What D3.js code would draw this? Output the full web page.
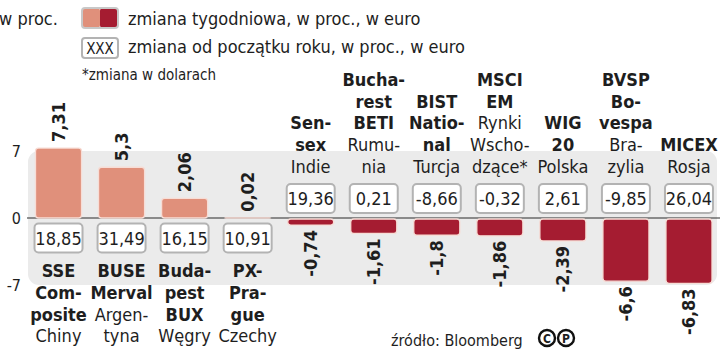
<!DOCTYPE html>
<html><head><meta charset="utf-8">
<script src="https://cdn.jsdelivr.net/npm/d3@7"></script>
<style>
html,body{margin:0;padding:0;background:#fff;}
svg{display:block;}
text{font-family:"DejaVu Sans Condensed","DejaVu Sans",sans-serif;fill:#1e1e1e;}
</style></head>
<body>
<svg id="chart" width="720" height="352"></svg>
<script>
// ---- data ----
const categories = ["SSE Composite","BUSE Merval","Budapest BUX","PX-Prague","Sensex","Bucharest BETI","BIST National","MSCI EM","WIG 20","BVSP Bovespa","MICEX"];
const nameLines = [["SSE","Com-","posite"],["BUSE","Merval"],["Buda-","pest","BUX"],["PX-","Pra-","gue"],["Sen-","sex"],["Bucha-","rest","BETI"],["BIST","Natio-","nal"],["MSCI","EM"],["WIG","20"],["BVSP","Bo-","vespa"],["MICEX"]];
const countryLines = [["Chiny"],["Argen-","tyna"],["Węgry"],["Czechy"],["Indie"],["Rumu-","nia"],["Turcja"],["Rynki","Wscho-","dzące*"],["Polska"],["Bra-","zylia"],["Rosja"]];
const weekly = [7.31, 5.3, 2.06, 0.02, -0.74, -1.61, -1.8, -1.86, -2.39, -6.6, -6.83];
const ytd = [18.85, 31.49, 16.15, 10.91, 19.36, 0.21, -8.66, -0.32, 2.61, -9.85, 26.04];
const yTicks = [7, 0, -7];
const unitLabel = "w proc.";
const legendWeekly = "zmiana tygodniowa, w proc., w euro";
const legendYtd = "zmiana od początku roku, w proc., w euro";
const legendNote = "*zmiana w dolarach";
const sourceText = "źródło: Bloomberg";

const posColor = "#e0907b", negColor = "#a51c31";

const svg = d3.select("#chart");
const x = d3.scaleBand().domain(categories).range([27, 720.5]).paddingInner(0.27).paddingOuter(0.135);
const y = d3.scaleLinear().domain([-7, 7]).range([285, 151]);
const fmtW = v => String(v).replace(".", ",");
const fmtY = v => d3.format(".2f")(v).replace(".", ",").replace("\u2212", "-");

// gray band
svg.append("rect").attr("x", 28).attr("y", y(7)).attr("width", 689).attr("height", y(-7) - y(7))
  .attr("rx", 11).attr("fill", "#ebebeb");

// y axis
const yAxis = d3.axisLeft(y).tickValues(yTicks).tickSize(0).tickPadding(0).tickFormat(d => String(d));
const ga = svg.append("g").attr("transform", "translate(21,0)").call(yAxis);
ga.select(".domain").remove();
ga.selectAll("text").attr("font-size", 16).attr("fill", "#333")
  .style("font-family", '"DejaVu Sans Condensed","DejaVu Sans",sans-serif');

// zero line
svg.append("line").attr("x1", 27).attr("x2", 720).attr("y1", y(0)).attr("y2", y(0))
  .attr("stroke", "#2a2a2a").attr("stroke-width", 1.2);

const idx = d3.range(categories.length);

// bars
svg.append("g").selectAll("rect").data(idx).join("rect")
  .attr("x", i => x(categories[i]))
  .attr("width", x.bandwidth())
  .attr("y", i => weekly[i] >= 0 ? y(weekly[i]) : y(0) + 1)
  .attr("height", i => weekly[i] >= 0 ? Math.max(0, y(0) - y(weekly[i])) : y(weekly[i]) - y(0) - 1)
  .attr("rx", 3)
  .attr("fill", i => weekly[i] >= 0 ? posColor : negColor)
  .attr("stroke", "#f7ddd6").attr("stroke-width", 1.3);

// value labels
svg.append("g").selectAll("text").data(idx).join("text")
  .attr("transform", i => {
    const cx = x(categories[i]) + x.bandwidth() / 2 + 6.5;
    const yy = weekly[i] >= 0 ? y(weekly[i]) - 6 : y(weekly[i]) + 5;
    return `translate(${cx},${yy}) rotate(-90)`;
  })
  .attr("text-anchor", i => weekly[i] >= 0 ? "start" : "end")
  .attr("font-size", 18).attr("font-weight", "bold").attr("fill", "#111")
  .text(i => fmtW(weekly[i]));

// ytd boxes
const bw = 48, bh = 29;
const boxes = svg.append("g").selectAll("g").data(idx).join("g")
  .attr("transform", i => {
    const cx = x(categories[i]) + x.bandwidth() / 2;
    const top = weekly[i] >= 0 ? y(0) + 5.5 : y(0) - 5 - bh;
    return `translate(${cx - bw / 2},${top})`;
  });
boxes.append("rect").attr("width", bw).attr("height", bh).attr("rx", 4)
  .attr("fill", "#fff").attr("stroke", "#b3b3b3").attr("stroke-width", 2);
boxes.append("text").attr("x", bw / 2).attr("y", bh / 2 + 6.5).attr("text-anchor", "middle")
  .attr("font-size", 18).attr("fill", "#1e1e1e").text(i => fmtY(ytd[i]));

// category labels
const lh = 21.8;
idx.forEach(i => {
  const cx = x(categories[i]) + x.bandwidth() / 2;
  const lines = nameLines[i].map(t => ({t, b: true})).concat(countryLines[i].map(t => ({t, b: false})));
  let y0;
  if (weekly[i] >= 0) y0 = 277;
  else y0 = 173 - (lines.length - 1) * lh;
  const t = svg.append("text").attr("text-anchor", "middle").attr("font-size", 18);
  lines.forEach((l, k) => {
    t.append("tspan").attr("x", cx).attr("y", y0 + k * lh)
      .attr("font-weight", l.b ? "bold" : "normal").text(l.t);
  });
});

// legend
svg.append("text").attr("x", -1).attr("y", 25).attr("font-size", 18).attr("fill", "#333").text(unitLabel);
const lg = svg.append("g");
lg.append("rect").attr("x", 82).attr("y", 8).attr("width", 18).attr("height", 20).attr("rx", 3).attr("fill", posColor);
lg.append("rect").attr("x", 100).attr("y", 8).attr("width", 18).attr("height", 20).attr("rx", 3).attr("fill", negColor);
lg.append("rect").attr("x", 82).attr("y", 8).attr("width", 36).attr("height", 20).attr("rx", 3)
  .attr("fill", "none").attr("stroke", "#c8c8c8").attr("stroke-width", 2);
lg.append("rect").attr("x", 82).attr("y", 38).attr("width", 36).attr("height", 20).attr("rx", 3)
  .attr("fill", "#fff").attr("stroke", "#b3b3b3").attr("stroke-width", 2);
lg.append("text").attr("x", 100).attr("y", 54).attr("text-anchor", "middle").attr("font-size", 15).attr("fill", "#222").text("XXX");
lg.append("text").attr("x", 128).attr("y", 25).attr("font-size", 18).attr("fill", "#333").text(legendWeekly);
lg.append("text").attr("x", 128).attr("y", 53).attr("font-size", 18).attr("fill", "#333").text(legendYtd);
lg.append("text").attr("x", 82).attr("y", 80).attr("font-size", 15).attr("fill", "#333").text(legendNote);

// source
svg.append("text").attr("x", 391).attr("y", 346).attr("font-size", 16).attr("fill", "#333").text(sourceText);
[["C", 547], ["P", 566]].forEach(([c, cx]) => {
  svg.append("circle").attr("cx", cx).attr("cy", 338).attr("r", 8).attr("fill", "none").attr("stroke", "#111").attr("stroke-width", 2.4);
  svg.append("text").attr("x", cx).attr("y", 342.5).attr("text-anchor", "middle").attr("font-size", 12).attr("font-weight", "bold").attr("fill", "#111").text(c);
});
</script>
</body></html>
